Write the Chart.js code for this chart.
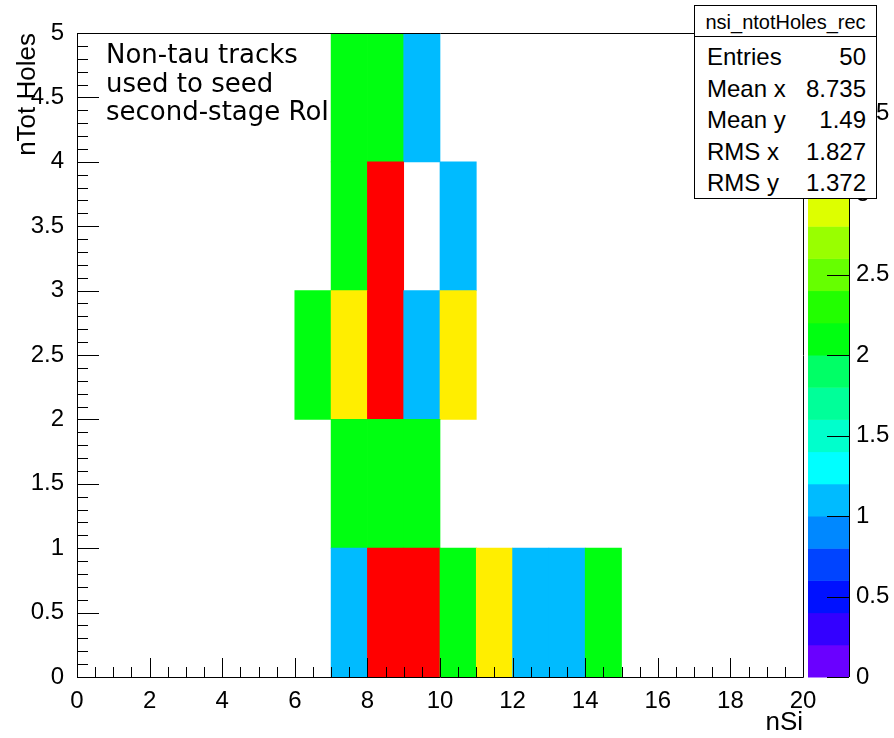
<!DOCTYPE html>
<html>
<head>
<meta charset="utf-8">
<title>nsi_ntotHoles_rec</title>
<script src="https://cdn.jsdelivr.net/npm/chart.js@4.4.1/dist/chart.umd.min.js"></script>
<style>
  html, body { margin: 0; padding: 0; background: #fff; }
  #wrap { position: relative; width: 894px; height: 738px; overflow: hidden; }
  #holesChart { position: absolute; left: 0; top: 0; }
  .note {
    position: absolute; left: 106px; top: 40px;
    font-family: "DejaVu Sans", sans-serif; font-size: 26px; line-height: 28.7px;
    color: #000; white-space: nowrap;
  }
  .stats {
    position: absolute; left: 694px; top: 5px; width: 181px; height: 192px;
    border: 1px solid #000; background: #fff;
    font-family: "Liberation Sans", Arial, sans-serif; color: #000;
  }
  .stats-title {
    height: 27px; padding-top: 3px; line-height: 27px; text-align: center;
    font-size: 20px; border-bottom: 1px solid #000;
  }
  .stats-rows { padding-top: 4px; }
  .stats-row {
    display: flex; justify-content: space-between;
    height: 31.6px; line-height: 31.6px; font-size: 24px;
    padding: 0 10px 0 12px;
  }
</style>
</head>
<body>
<div id="wrap">
  <canvas id="holesChart" width="894" height="738"></canvas>
  <div class="note">Non-tau tracks<br>used to seed<br>second-stage RoI</div>
  <div class="stats">
    <div class="stats-title" id="statsTitle"></div>
    <div class="stats-rows" id="statsRows"></div>
  </div>
</div>
<script>
// nSi bins: lower edges, width 1, from 0 to 20
const nSiBins = [0,1,2,3,4,5,6,7,8,9,10,11,12,13,14,15,16,17,18,19];
// nTot Holes bins: lower edges, width 1
const holeBins = [0, 1, 2, 3, 4];
// bin contents, one array per nTot Holes row
const holes0 = [0,0,0,0,0,0,0,1,4,4,2,3,1,1,2,0,0,0,0,0];
const holes1 = [0,0,0,0,0,0,0,2,2,2,0,0,0,0,0,0,0,0,0,0];
const holes2 = [0,0,0,0,0,0,2,3,4,1,3,0,0,0,0,0,0,0,0,0];
const holes3 = [0,0,0,0,0,0,0,2,4,0,1,0,0,0,0,0,0,0,0,0];
const holes4 = [0,0,0,0,0,0,0,2,2,1,0,0,0,0,0,0,0,0,0,0];
const rows = [holes0, holes1, holes2, holes3, holes4];

// colour scale
const zMin = 0;
const zMax = 4;
const palette = [
  "#6a00ff", "#3300ff", "#0011ff", "#0044ff", "#0088ff",
  "#00bbff", "#00ffff", "#00ffcc", "#00ff99", "#00ff66",
  "#00ff11", "#22ff00", "#66ff00", "#99ff00", "#ddff00",
  "#ffee00", "#ffbb00", "#ff8800", "#ff4400", "#ff0000"
];

// stats box
const statsTitle = "nsi_ntotHoles_rec";
const statLabels = ["Entries", "Mean x", "Mean y", "RMS x", "RMS y"];
const statValues = ["50", "8.735", "1.49", "1.827", "1.372"];

document.getElementById("statsTitle").textContent = statsTitle;
const statsRows = document.getElementById("statsRows");
statLabels.forEach(function (lab, i) {
  const row = document.createElement("div");
  row.className = "stats-row";
  const a = document.createElement("span");
  a.textContent = lab;
  const b = document.createElement("span");
  b.textContent = statValues[i];
  row.appendChild(a);
  row.appendChild(b);
  statsRows.appendChild(row);
});

function colorFor(v) {
  let i = Math.floor((v - zMin) * palette.length / (zMax - zMin) + 0.01);
  if (i > palette.length - 1) i = palette.length - 1;
  if (i < 0) i = 0;
  return palette[i];
}

// one floating-bar dataset per nTot Holes row, bars sit on the bin centres
const datasets = rows.map(function (counts, r) {
  const pts = [];
  const cols = [];
  counts.forEach(function (c, i) {
    if (c > 0) {
      pts.push({ x: nSiBins[i] + 0.5, y: [holeBins[r], holeBins[r] + 1] });
      cols.push(colorFor(c));
    }
  });
  return {
    label: "nTot Holes " + holeBins[r],
    data: pts,
    backgroundColor: cols,
    borderWidth: 0,
    barPercentage: 1,
    categoryPercentage: 1,
    grouped: false,
    xAxisID: "x",
    yAxisID: "y"
  };
});

const axisFont = { family: "Liberation Sans", size: 24 };
const titleFont = { family: "Liberation Sans", size: 26 };
const fmt = function (v) { return String(Number(v.toFixed(2))); };
function noPad(s) { s.paddingTop = 0; s.paddingBottom = 0; s.paddingLeft = 0; s.paddingRight = 0; }

// frame, inward tick marks and the colour bar, ROOT style
const rootFrame = {
  id: "rootFrame",
  afterDatasetsDraw(chart) {
    const { ctx, chartArea: a, scales } = chart;
    const xs = scales.x, ys = scales.y, zs = scales.z;
    const px = function (v) { return Math.round(v) + 0.5; };
    ctx.save();

    // colour bar
    const barL = Math.round(a.right) + 5;
    const barR = Math.round(a.right) + 46;
    const step = (zMax - zMin) / palette.length;
    for (let i = 0; i < palette.length; i++) {
      const y0 = zs.getPixelForValue(zMin + i * step);
      const y1 = zs.getPixelForValue(zMin + (i + 1) * step);
      ctx.fillStyle = palette[i];
      ctx.fillRect(barL, y1, barR - barL, y0 - y1 + 0.5);
    }

    ctx.strokeStyle = "#000";
    ctx.lineWidth = 1;
    ctx.beginPath();
    // frame
    ctx.rect(px(a.left), px(a.top), Math.round(a.right) - Math.round(a.left), Math.round(a.bottom) - Math.round(a.top));
    // x ticks
    for (let v = 0; v <= 20; v += 0.5) {
      const x = px(xs.getPixelForValue(v));
      const len = v % 2 === 0 ? 19 : 10;
      ctx.moveTo(x, a.bottom);
      ctx.lineTo(x, a.bottom - len);
    }
    // y ticks
    for (let i = 0; i <= 50; i++) {
      const y = px(ys.getPixelForValue(i / 10));
      const len = i % 5 === 0 ? 22 : 11;
      ctx.moveTo(a.left, y);
      ctx.lineTo(a.left + len, y);
    }
    // colour bar axis
    ctx.moveTo(barR + 0.5, a.top);
    ctx.lineTo(barR + 0.5, a.bottom);
    for (let v = zMin; v <= zMax; v += 0.5) {
      const y = px(zs.getPixelForValue(v));
      ctx.moveTo(barR - 22, y);
      ctx.lineTo(barR, y);
    }
    ctx.stroke();
    ctx.restore();
  }
};

const ctx = document.getElementById("holesChart").getContext("2d");
new Chart(ctx, {
  type: "bar",
  data: { datasets: datasets },
  options: {
    responsive: false,
    animation: false,
    layout: { padding: { top: 33 } },
    plugins: { legend: { display: false }, tooltip: { enabled: false } },
    scales: {
      x: {
        type: "linear", position: "bottom", min: 0, max: 20, offset: false,
        grid: { display: false }, border: { display: false },
        ticks: { stepSize: 2, color: "#000", font: axisFont, padding: 2, maxRotation: 0, autoSkip: false, callback: fmt },
        title: { display: true, text: "nSi", align: "end", color: "#000", font: titleFont, padding: { top: 0, bottom: 0 } },
        afterFit(s) { s.height = 61; noPad(s); }
      },
      y: {
        type: "linear", position: "left", min: 0, max: 5,
        grid: { display: false }, border: { display: false },
        ticks: { stepSize: 0.5, color: "#000", font: axisFont, padding: 5, callback: fmt },
        title: { display: true, text: "nTot Holes", align: "end", color: "#000", font: titleFont, padding: { top: 12, bottom: 0 } },
        afterFit(s) { s.width = 77; noPad(s); }
      },
      z: {
        type: "linear", position: "right", min: zMin, max: zMax,
        grid: { display: false }, border: { display: false },
        ticks: { stepSize: 0.5, color: "#000", font: axisFont, padding: 45, callback: fmt },
        afterFit(s) { s.width = 91; noPad(s); }
      }
    }
  },
  plugins: [rootFrame]
});
</script>
</body>
</html>
